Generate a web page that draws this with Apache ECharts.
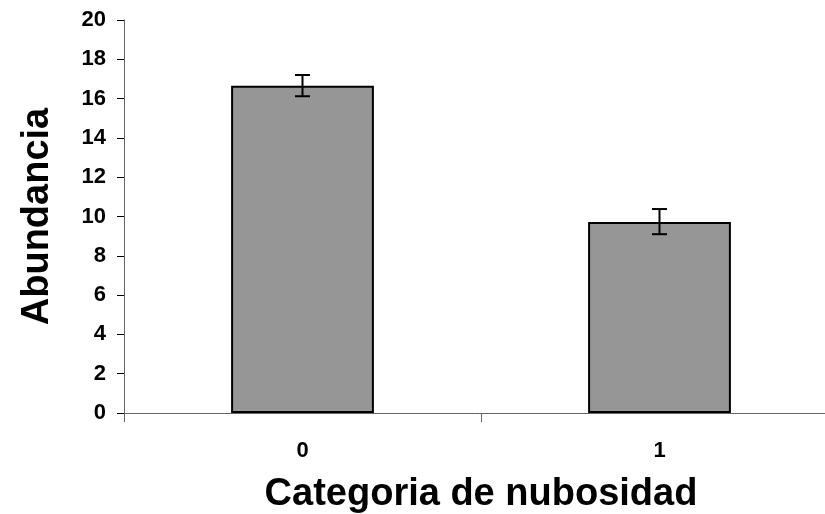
<!DOCTYPE html>
<html><head><meta charset="utf-8">
<script src="https://cdn.jsdelivr.net/npm/echarts@6/dist/echarts.min.js"></script>
<style>html,body{margin:0;padding:0;background:#fff}#c{width:825px;height:514px}</style>
</head><body><div id="c"></div>
<script>
const categories = ['0', '1'];
const abundance = [16.65, 9.72];
const errLow = [16.12, 9.1];
const errHigh = [17.2, 10.38];
const yTicks = [0, 2, 4, 6, 8, 10, 12, 14, 16, 18, 20];

const font = 'Liberation Sans, Arial, sans-serif';
const chart = echarts.init(document.getElementById('c'), null, {renderer: 'canvas'});
chart.setOption({
  animation: false,
  backgroundColor: '#fff',
  grid: {left: 124, top: 20, right: -13, bottom: 101, containLabel: false, outerBoundsMode: 'none'},
  xAxis: {
    type: 'category', data: categories,
    name: 'Categoria de nubosidad', nameLocation: 'middle', nameGap: 63,
    nameTextStyle: {fontFamily: font, fontWeight: 'bold', fontSize: 38, color: '#000'},
    axisLine: {lineStyle: {color: '#666', width: 1}},
    axisTick: {show: true, alignWithLabel: false, length: 9, lineStyle: {color: '#666'}},
    axisLabel: {fontFamily: font, fontWeight: 'bold', fontSize: 22, color: '#000', margin: 27}
  },
  yAxis: {
    type: 'value', min: 0, max: 20, interval: 2,
    name: 'Abundancia', nameLocation: 'middle', nameGap: 67, nameRotate: 90,
    nameTextStyle: {fontFamily: font, fontWeight: 'bold', fontSize: 38, color: '#000'},
    axisLine: {show: true, lineStyle: {color: '#666', width: 1}},
    axisTick: {show: true, length: 7, lineStyle: {color: '#000'}},
    splitLine: {show: false},
    axisLabel: {fontFamily: font, fontWeight: 'bold', fontSize: 22, color: '#000', margin: 18,
      formatter: v => yTicks.includes(v) ? String(v) : ''}
  },
  series: [{
    type: 'bar', data: abundance, barWidth: '40%',
    itemStyle: {color: '#969696', borderColor: '#000', borderWidth: 2},
    z: 2
  }, {
    type: 'custom', z: 3,
    data: categories.map((c, i) => [i, errLow[i], errHigh[i]]),
    renderItem: function (params, api) {
      const lo = api.coord([api.value(0), api.value(1)]);
      const hi = api.coord([api.value(0), api.value(2)]);
      const hw = 7.5;
      const st = {stroke: '#000', lineWidth: 2};
      return {type: 'group', children: [
        {type: 'line', shape: {x1: hi[0], y1: hi[1], x2: lo[0], y2: lo[1]}, style: st},
        {type: 'line', shape: {x1: hi[0]-hw, y1: hi[1], x2: hi[0]+hw, y2: hi[1]}, style: st},
        {type: 'line', shape: {x1: lo[0]-hw, y1: lo[1], x2: lo[0]+hw, y2: lo[1]}, style: st}
      ]};
    }
  }]
});
</script></body></html>
